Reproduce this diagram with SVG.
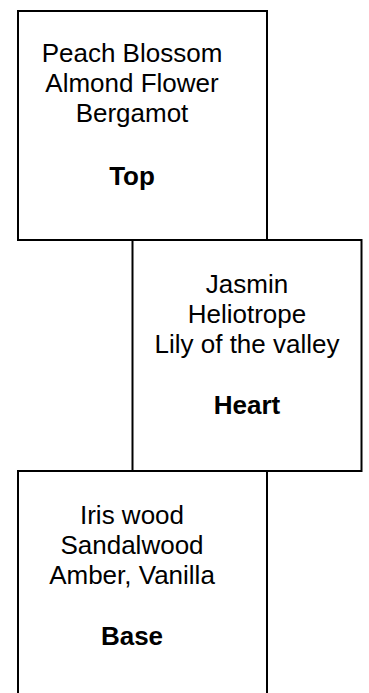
<svg xmlns="http://www.w3.org/2000/svg" width="369" height="693" viewBox="0 0 369 693">
<style>
.box{fill:none;stroke:#000;stroke-width:2}
.t{font-family:"Liberation Sans",Arial,sans-serif;font-size:26px;fill:#000;text-anchor:middle}
.b{font-weight:bold}
</style>
<rect width="369" height="693" fill="#fff"/>
<g id="connectors"></g>
<g id="top">
<rect class="box" x="18" y="11" width="249" height="229"/>
<text class="t" x="132" y="62">Peach Blossom</text>
<text class="t" x="132" y="92">Almond Flower</text>
<text class="t" x="132" y="122">Bergamot</text>
<text class="t b" x="132" y="185">Top</text>
</g>
<g id="heart">
<rect class="box" x="132.5" y="240" width="229" height="231"/>
<text class="t" x="247" y="293">Jasmin</text>
<text class="t" x="247" y="323">Heliotrope</text>
<text class="t" x="247" y="353">Lily of the valley</text>
<text class="t b" x="247" y="414">Heart</text>
</g>
<g id="base">
<rect class="box" x="18" y="471" width="249" height="240"/>
<text class="t" x="132" y="524">Iris wood</text>
<text class="t" x="132" y="554">Sandalwood</text>
<text class="t" x="132" y="584">Amber, Vanilla</text>
<text class="t b" x="132" y="645">Base</text>
</g>
</svg>
